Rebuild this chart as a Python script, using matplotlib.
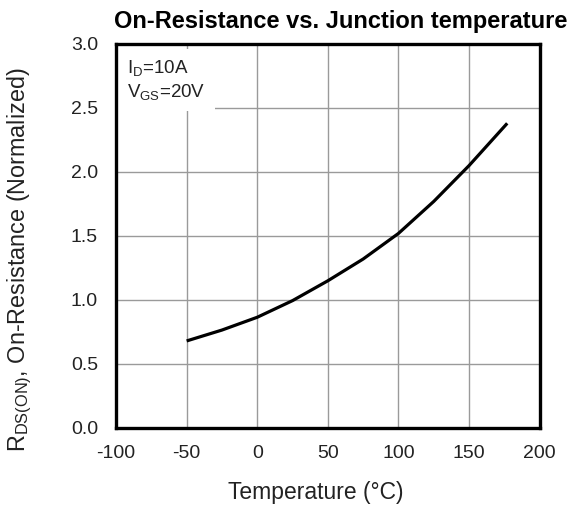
import numpy as np
import matplotlib
matplotlib.use('Agg')
import matplotlib.pyplot as plt

plt.rcParams['font.family'] = ['Liberation Sans', 'DejaVu Sans']
plt.rcParams['mathtext.fontset'] = 'custom'
plt.rcParams['mathtext.rm'] = 'Liberation Sans'
plt.rcParams['mathtext.default'] = 'regular'
plt.rcParams['axes.unicode_minus'] = False

# values
temp = [-50, -25, 0, 25, 50, 75, 100, 125, 150, 177]
rdson = [0.68, 0.765, 0.865, 0.995, 1.15, 1.32, 1.52, 1.77, 2.05, 2.38]

xticks = [-100, -50, 0, 50, 100, 150, 200]
yticks = [0.0, 0.5, 1.0, 1.5, 2.0, 2.5, 3.0]

fig = plt.figure(figsize=(5.86, 5.08), dpi=100)
ax = fig.add_axes([0.198, 0.1575, 0.723, 0.756])

ax.plot(temp, rdson, color='black', linewidth=2.3, solid_capstyle='butt',
        solid_joinstyle='round', zorder=3)

ax.set_xlim(-100, 200)
ax.set_ylim(0, 3.0)
ax.set_xticks(xticks)
ax.set_yticks(yticks)
ax.set_yticklabels(['%.1f' % v for v in yticks])
ax.grid(True, color='#9a9a9a', linewidth=1.0)
ax.set_axisbelow(True)
ax.tick_params(length=0, labelsize=14, colors='#222222')
ax.tick_params(axis='x', pad=12)
ax.tick_params(axis='y', pad=13)
for s in ax.spines.values():
    s.set_linewidth(2.4)
    s.set_color('black')

ax.text(-92, 2.89, 'I$_D$=10A\nV$_{GS}$=20V', fontsize=13.5, va='top', ha='left',
        linespacing=1.25, zorder=2, color='#222222',
        bbox=dict(facecolor='white', edgecolor='none', boxstyle='square,pad=0.5'))

ax.set_xlabel('Temperature (°C)', fontsize=16.5, color='#222222', va='center')
ax.xaxis.set_label_coords(0.472, -0.169)
ax.set_ylabel('R$_{DS(ON)}$, On-Resistance (Normalized)', fontsize=16.8,
              color='#222222', va='center')
ax.yaxis.set_label_coords(-0.226, 0.4375)
ax.set_title('On-Resistance vs. Junction temperature', fontsize=17, fontweight='bold',
             x=0.531, y=1.058, va='center', pad=0)

fig.savefig('out.png', dpi=100)
